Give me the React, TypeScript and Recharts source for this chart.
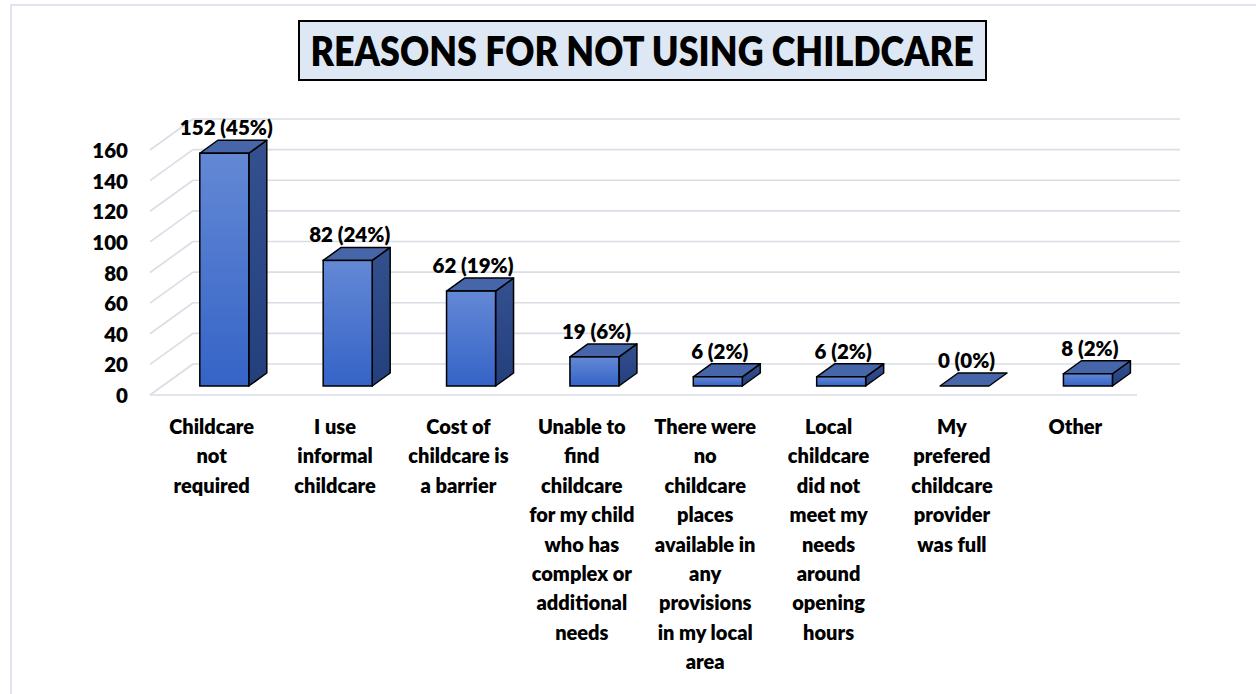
import React from "react";
import { BarChart, Bar, XAxis, YAxis, CartesianGrid, LabelList } from "recharts";

const categoryLines: string[][] = [
  ["Childcare", "not", "required"],
  ["I use", "informal", "childcare"],
  ["Cost of", "childcare is", "a barrier"],
  ["Unable to", "find", "childcare", "for my child", "who has", "complex or", "additional", "needs"],
  ["There were", "no", "childcare", "places", "available in", "any", "provisions", "in my local", "area"],
  ["Local", "childcare", "did not", "meet my", "needs", "around", "opening", "hours"],
  ["My", "prefered", "childcare", "provider", "was full"],
  ["Other"],
];
const categories = categoryLines.map((l) => l.join(" "));
const counts = [152, 82, 62, 19, 6, 6, 0, 8];
const shares = ["45%", "24%", "19%", "6%", "2%", "2%", "0%", "2%"];
const yTicks = [0, 20, 40, 60, 80, 100, 120, 140, 160];

const data = categories.map((name, i) => ({
  name,
  count: counts[i],
  label: `${counts[i]} (${shares[i]})`,
}));

const FONT = "Lato, 'Open Sans', sans-serif";
const GRID = "#d9dde5";
// 3d offsets
const WALL_X = 43;
const WALL_Y = -31;
const FX = 12.8;
const FY = -9;
const BX = 18;
const BY = -13;

const gridLine = (props: any) => {
  const { x1, x2, y1 } = props;
  return (
    <g key={props.key}>
      <line x1={x1} y1={y1} x2={x1 + WALL_X} y2={y1 + WALL_Y} stroke={GRID} strokeWidth={1.6} />
      <line x1={x1 + WALL_X} y1={y1 + WALL_Y} x2={x2 + WALL_X} y2={y1 + WALL_Y} stroke={GRID} strokeWidth={1.6} />
    </g>
  );
};

const Bar3D = (props: any) => {
  const { x, y, width, height } = props;
  const fx = x + FX;
  const fy = y + FY;
  const r = fx + width;
  const b = fy + height;
  return (
    <g>
      {height > 0 && (
        <polygon
          points={`${r},${fy} ${r + BX},${fy + BY} ${r + BX},${b + BY} ${r},${b}`}
          fill="url(#sideGrad)"
          stroke="#000"
          strokeWidth={1.5}
          strokeLinejoin="round"
        />
      )}
      <polygon
        points={`${fx},${fy} ${fx + BX},${fy + BY} ${r + BX},${fy + BY} ${r},${fy}`}
        fill="#4766a9"
        stroke="#000"
        strokeWidth={1.5}
        strokeLinejoin="round"
      />
      {height > 0 && (
        <rect x={fx} y={fy} width={width} height={height} fill="url(#frontGrad)" stroke="#000" strokeWidth={1.5} />
      )}
    </g>
  );
};

const renderLabel = (props: any) => {
  const { x, y, width, value } = props;
  return (
    <text
      x={x + FX + width / 2 + 2}
      y={y + FY - 18}
      textAnchor="middle"
      fontFamily={FONT}
      fontWeight={800}
      fontSize={20.5}
      fill="#000"
    >
      {value}
    </text>
  );
};

const XTick = (props: any) => {
  const { x, y, payload } = props;
  const lines = categoryLines[payload.index] || [];
  return (
    <text textAnchor="middle" fontFamily={FONT} fontWeight={800} fontSize={20} fill="#000">
      {lines.map((l, i) => (
        <tspan key={i} x={x} y={y + 39 + i * 29.4}>
          {l}
        </tspan>
      ))}
    </text>
  );
};

const YTick = (props: any) => {
  const { y, payload } = props;
  return (
    <text x={128} y={y + 8} textAnchor="end" fontFamily={FONT} fontWeight={800} fontSize={20.5} fill="#000">
      {payload.value}
    </text>
  );
};

export default function App() {
  return (
    <div style={{ position: "absolute", left: 0, top: 0, width: 1256, height: 694, background: "#fff" }}>
      <svg width={0} height={0} style={{ position: "absolute" }}>
        <defs>
          <linearGradient id="frontGrad" x1="0" y1="0" x2="0" y2="1">
            <stop offset="0%" stopColor="#6388d5" />
            <stop offset="100%" stopColor="#3564c7" />
          </linearGradient>
          <linearGradient id="sideGrad" x1="0" y1="0" x2="0" y2="1">
            <stop offset="0%" stopColor="#34508f" />
            <stop offset="100%" stopColor="#233f7c" />
          </linearGradient>
        </defs>
      </svg>
      <div
        style={{
          position: "absolute",
          left: 10,
          top: 4,
          right: 0,
          bottom: 0,
          borderLeft: "2px solid #dfe4ee",
          borderTop: "2px solid #dfe4ee",
        }}
      />
      <div style={{ position: "absolute", left: 0, top: 0 }}>
        <BarChart
          width={1256}
          height={694}
          data={data}
          margin={{ top: 150, right: 119, bottom: 19, left: 0 }}
        >
          <CartesianGrid vertical={false} horizontal={gridLine} />
          <XAxis
            dataKey="name"
            height={280}
            interval={0}
            tickLine={false}
            tickSize={0}
            tickMargin={0}
            axisLine={{ stroke: GRID, strokeWidth: 1.6 }}
            tick={<XTick />}
          />
          <YAxis
            width={150}
            domain={[0, 160]}
            ticks={yTicks}
            axisLine={false}
            tickLine={false}
            tick={<YTick />}
          />
          <Bar dataKey="count" barSize={49} shape={<Bar3D />} isAnimationActive={false}>
            <LabelList dataKey="label" content={renderLabel} />
          </Bar>
        </BarChart>
      </div>
      <div
        style={{
          position: "absolute",
          left: 298,
          top: 20,
          width: 685,
          height: 57,
          border: "2px solid #000",
          background: "#dde8f4",
          display: "flex",
          alignItems: "center",
          justifyContent: "center",
          fontFamily: FONT,
          fontWeight: 800,
          fontSize: 41,
          color: "#000",
          whiteSpace: "nowrap",
        }}
      >
        <span style={{ display: "inline-block", transform: "scaleX(0.875)" }}>REASONS FOR NOT USING CHILDCARE</span>
      </div>
    </div>
  );
}
